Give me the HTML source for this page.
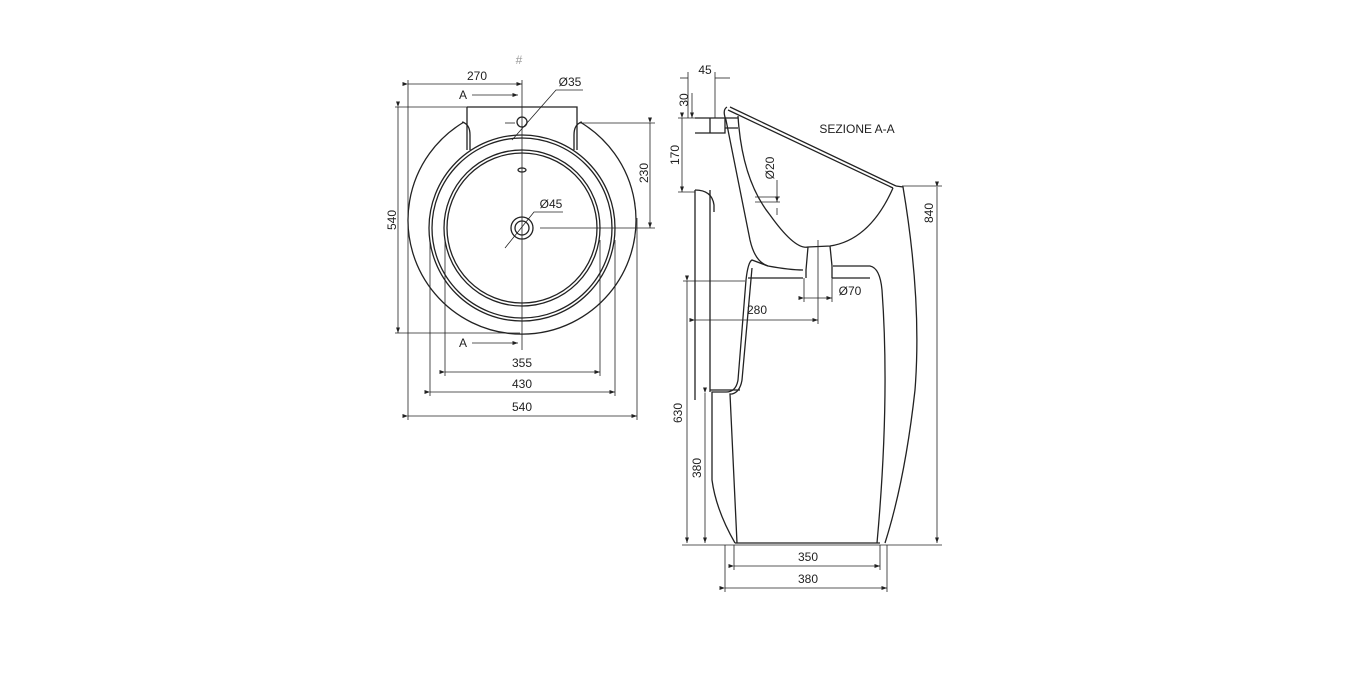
<!DOCTYPE html>
<html><head><meta charset="utf-8"><style>
html,body{margin:0;padding:0;background:#fff;width:1366px;height:678px;overflow:hidden}
svg{display:block}
text{font-family:"Liberation Sans",sans-serif;font-size:12px;fill:#222}
</style></head><body>
<svg width="1366" height="678" viewBox="0 0 1366 678" xmlns="http://www.w3.org/2000/svg">
<defs><marker id="a" markerWidth="8" markerHeight="6" refX="7" refY="3" orient="auto"><path d="M0,0.5 L7,3 L0,5.5z" fill="#222"/></marker></defs>
<g fill="none" stroke="#222" stroke-width="1.3">
<path d="M464,122 A114,114 0 1 0 580,122"/>
<path d="M467,107 L577,107 L577,150 M467,107 L467,150"/>
<path d="M462,122 Q470,124 470,135 L470,150 M582,122 Q574,124 574,135 L574,150"/>
<circle cx="522" cy="228" r="93"/><circle cx="522" cy="228" r="90"/>
<circle cx="522" cy="228" r="78"/><circle cx="522" cy="228" r="75"/>
<circle cx="522" cy="228" r="11"/><circle cx="522" cy="228" r="7"/>
<circle cx="522" cy="122" r="5"/>
<ellipse cx="522" cy="170" rx="4" ry="2"/>
</g>
<g fill="none" stroke="#222" stroke-width="0.8">
<line x1="522" y1="80" x2="522" y2="350"/>
<line x1="408" y1="84" x2="522" y2="84" marker-start="url(#a)" marker-end="url(#a)"/>
<line x1="408" y1="80" x2="408" y2="420"/><line x1="637" y1="218" x2="637" y2="420"/>
<line x1="472" y1="95" x2="518" y2="95" marker-end="url(#a)"/>
<line x1="472" y1="343" x2="518" y2="343" marker-end="url(#a)"/>
<line x1="398" y1="107" x2="398" y2="333" marker-start="url(#a)" marker-end="url(#a)"/>
<line x1="395" y1="107" x2="467" y2="107"/><line x1="395" y1="333" x2="520" y2="333"/>
<line x1="650" y1="123" x2="650" y2="228" marker-start="url(#a)" marker-end="url(#a)"/>
<line x1="580" y1="123" x2="655" y2="123"/><line x1="540" y1="228" x2="655" y2="228"/>
<line x1="505" y1="123" x2="515" y2="123"/>
<line x1="445" y1="372" x2="600" y2="372" marker-start="url(#a)" marker-end="url(#a)"/>
<line x1="430" y1="392" x2="615" y2="392" marker-start="url(#a)" marker-end="url(#a)"/>
<line x1="408" y1="416" x2="637" y2="416" marker-start="url(#a)" marker-end="url(#a)"/>
<line x1="445" y1="240" x2="445" y2="376"/><line x1="600" y1="240" x2="600" y2="376"/>
<line x1="430" y1="240" x2="430" y2="396"/><line x1="615" y1="240" x2="615" y2="396"/>
<path d="M512,140 L556,90 L583,90"/>
<path d="M505,248 L534,212 L563,212"/>
</g>
<text x="519" y="64" style="fill:#999;font-size:12px" text-anchor="middle">#</text>
<text x="477" y="80" text-anchor="middle">270</text>
<text x="463" y="99" text-anchor="middle">A</text>
<text x="463" y="347" text-anchor="middle">A</text>
<text x="570" y="86" text-anchor="middle">Ø35</text>
<text x="551" y="208" text-anchor="middle">Ø45</text>
<text transform="translate(396,220) rotate(-90)" text-anchor="middle">540</text>
<text transform="translate(648,173) rotate(-90)" text-anchor="middle">230</text>
<text x="522" y="367" text-anchor="middle">355</text>
<text x="522" y="388" text-anchor="middle">430</text>
<text x="522" y="411" text-anchor="middle">540</text>
<g fill="none" stroke="#222" stroke-width="1.3">
<path d="M730,107 L896,186 M728,110 L893,188"/>
<path d="M727,107 Q722,110 726,120 L740,190 L750,240 Q755,262 768,266 Q790,270 803,270"/>
<path d="M738,116 Q742,180 770,215 Q795,250 808,247 L830,246 Q870,240 893,188"/>
<path d="M808,247 L806,270 L806,278 M830,246 L832,266 L832,278"/>
<path d="M896,186 L903,187 Q922,300 915,390 Q905,480 885,543"/>
<path d="M833,266 L870,266 Q880,268 882,290 Q890,400 877,543"/>
<path d="M768,266 L752,260 Q748,262 746,280 L738,380 Q736,392 726,392 L712,392 L712,480 Q716,510 735,543"/>
<path d="M752,268 L742,380 Q740,392 732,394 L730,394 L737,543"/>
<path d="M748,278 L803,278 M832,278 L870,278"/>
<line x1="735" y1="543" x2="880" y2="543"/>
<line x1="710" y1="190" x2="710" y2="392"/>
<path d="M695,190 L695,400 M710,390 L740,390"/>
<path d="M695,190 Q712,190 714,205 L714,212"/>
<path d="M695,118 L725,118 L725,133 L695,133 M710,118 L710,133"/>
<path d="M725,118 L738,118 M725,128 L738,128"/>
</g>
<g fill="none" stroke="#222" stroke-width="0.8">
<line x1="680" y1="78" x2="688" y2="78"/><line x1="715" y1="78" x2="730" y2="78" />
<line x1="688" y1="72" x2="688" y2="118"/><line x1="715" y1="72" x2="715" y2="118"/>
<line x1="692" y1="93" x2="692" y2="118" marker-end="url(#a)"/>
<line x1="682" y1="118" x2="682" y2="192" marker-start="url(#a)" marker-end="url(#a)"/>
<line x1="678" y1="118" x2="695" y2="118"/><line x1="678" y1="192" x2="695" y2="192"/>
<line x1="937" y1="187" x2="937" y2="543" marker-start="url(#a)" marker-end="url(#a)"/>
<line x1="902" y1="186" x2="942" y2="186"/><line x1="682" y1="545" x2="942" y2="545"/>
<line x1="687" y1="281" x2="687" y2="543" marker-start="url(#a)" marker-end="url(#a)"/>
<line x1="683" y1="281" x2="745" y2="281"/>
<line x1="705" y1="393" x2="705" y2="543" marker-start="url(#a)" marker-end="url(#a)"/>
<line x1="695" y1="320" x2="818" y2="320" marker-start="url(#a)" marker-end="url(#a)"/>
<line x1="818" y1="240" x2="818" y2="324"/>
<line x1="804" y1="298" x2="832" y2="298" marker-start="url(#a)" marker-end="url(#a)"/>
<line x1="804" y1="278" x2="804" y2="302"/><line x1="832" y1="278" x2="832" y2="302"/>
<line x1="777" y1="180" x2="777" y2="202" marker-end="url(#a)"/>
<line x1="777" y1="215" x2="777" y2="208"/>
<line x1="755" y1="197" x2="780" y2="197"/><line x1="755" y1="202" x2="780" y2="202"/>
<line x1="734" y1="566" x2="880" y2="566" marker-start="url(#a)" marker-end="url(#a)"/>
<line x1="725" y1="588" x2="887" y2="588" marker-start="url(#a)" marker-end="url(#a)"/>
<line x1="734" y1="545" x2="734" y2="570"/><line x1="880" y1="545" x2="880" y2="570"/>
<line x1="725" y1="545" x2="725" y2="592"/><line x1="887" y1="545" x2="887" y2="592"/>
</g>
<text x="705" y="74" text-anchor="middle">45</text>
<text transform="translate(688,100) rotate(-90)" text-anchor="middle">30</text>
<text transform="translate(679,155) rotate(-90)" text-anchor="middle">170</text>
<text transform="translate(774,168) rotate(-90)" text-anchor="middle">Ø20</text>
<text x="857" y="133" text-anchor="middle">SEZIONE A-A</text>
<text transform="translate(933,213) rotate(-90)" text-anchor="middle">840</text>
<text x="850" y="295" text-anchor="middle">Ø70</text>
<text x="757" y="314" text-anchor="middle">280</text>
<text transform="translate(682,413) rotate(-90)" text-anchor="middle">630</text>
<text transform="translate(701,468) rotate(-90)" text-anchor="middle">380</text>
<text x="808" y="561" text-anchor="middle">350</text>
<text x="808" y="583" text-anchor="middle">380</text>
</svg>
</body></html>
